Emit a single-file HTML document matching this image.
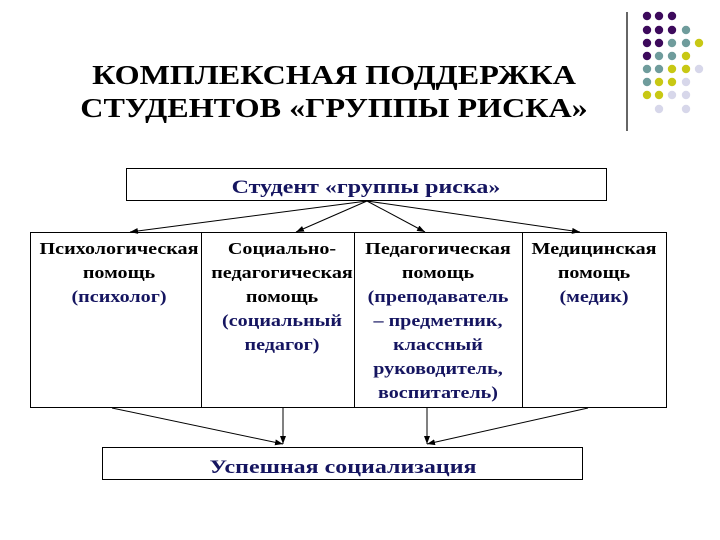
<!DOCTYPE html>
<html><head><meta charset="utf-8"><style>
html,body{margin:0;padding:0;background:#fff}
svg{display:block}
text{font-family:"Liberation Serif",serif;font-weight:bold;text-anchor:middle}
.t{font-size:16.5px}
.k{fill:#000}.n{fill:#151560}
</style></head><body>
<svg width="720" height="540" viewBox="0 0 720 540" xmlns="http://www.w3.org/2000/svg">
<defs><marker id="a" markerWidth="8" markerHeight="6" refX="8" refY="3" orient="auto" markerUnits="userSpaceOnUse"><path d="M0,0L8,3L0,6z" fill="#000"/></marker></defs>
<g transform="translate(334,0) scale(1.19,1)">
<text x="0" y="84" font-size="27" fill="#000">КОМПЛЕКСНАЯ ПОДДЕРЖКА</text>
<text x="0" y="117" font-size="27" fill="#000">СТУДЕНТОВ «ГРУППЫ РИСКА»</text>
</g>
<line x1="627" y1="12" x2="627" y2="131" stroke="#000" stroke-width="1.2"/>
<g>
<circle cx="647" cy="16" r="4.2" fill="#3d0a5c"/><circle cx="659" cy="16" r="4.2" fill="#3d0a5c"/><circle cx="672" cy="16" r="4.2" fill="#3d0a5c"/>
<circle cx="647" cy="30" r="4.2" fill="#3d0a5c"/><circle cx="659" cy="30" r="4.2" fill="#3d0a5c"/><circle cx="672" cy="30" r="4.2" fill="#3d0a5c"/><circle cx="686" cy="30" r="4.2" fill="#6f9c9c"/>
<circle cx="647" cy="43" r="4.2" fill="#3d0a5c"/><circle cx="659" cy="43" r="4.2" fill="#3d0a5c"/><circle cx="672" cy="43" r="4.2" fill="#6f9c9c"/><circle cx="686" cy="43" r="4.2" fill="#6f9c9c"/><circle cx="699" cy="43" r="4.2" fill="#c8c814"/>
<circle cx="647" cy="56" r="4.2" fill="#3d0a5c"/><circle cx="659" cy="56" r="4.2" fill="#6f9c9c"/><circle cx="672" cy="56" r="4.2" fill="#6f9c9c"/><circle cx="686" cy="56" r="4.2" fill="#c8c814"/>
<circle cx="647" cy="69" r="4.2" fill="#6f9c9c"/><circle cx="659" cy="69" r="4.2" fill="#6f9c9c"/><circle cx="672" cy="69" r="4.2" fill="#c8c814"/><circle cx="686" cy="69" r="4.2" fill="#c8c814"/><circle cx="699" cy="69" r="4.2" fill="#d7d7ea"/>
<circle cx="647" cy="82" r="4.2" fill="#6f9c9c"/><circle cx="659" cy="82" r="4.2" fill="#c8c814"/><circle cx="672" cy="82" r="4.2" fill="#c8c814"/><circle cx="686" cy="82" r="4.2" fill="#d7d7ea"/>
<circle cx="647" cy="95" r="4.2" fill="#c8c814"/><circle cx="659" cy="95" r="4.2" fill="#c8c814"/><circle cx="672" cy="95" r="4.2" fill="#d7d7ea"/><circle cx="686" cy="95" r="4.2" fill="#d7d7ea"/>
<circle cx="659" cy="109" r="4.2" fill="#d7d7ea"/><circle cx="686" cy="109" r="4.2" fill="#d7d7ea"/>
</g>
<rect x="126.5" y="168.5" width="480" height="32" fill="none" stroke="#000"/>
<g transform="translate(366,0) scale(1.23,1)"><text x="0" y="193" font-size="19.5" class="n">Студент «группы риска»</text></g>
<g stroke="#000" stroke-width="1" marker-end="url(#a)">
<line x1="367" y1="201" x2="130" y2="232"/>
<line x1="367" y1="201" x2="296" y2="232"/>
<line x1="367" y1="201" x2="425" y2="232"/>
<line x1="367" y1="201" x2="580" y2="232"/>
<line x1="112" y1="408" x2="283" y2="444"/>
<line x1="283" y1="408" x2="283" y2="444"/>
<line x1="427" y1="408" x2="427" y2="444"/>
<line x1="588" y1="408" x2="427" y2="444"/>
</g>
<rect x="30.5" y="232.5" width="636" height="175" fill="none" stroke="#000"/>
<line x1="201.5" y1="232" x2="201.5" y2="408" stroke="#000"/>
<line x1="354.5" y1="232" x2="354.5" y2="408" stroke="#000"/>
<line x1="522.5" y1="232" x2="522.5" y2="408" stroke="#000"/>
<g transform="translate(119,0) scale(1.22,1)">
<text class="t k" x="0" y="254">Психологическая</text>
<text class="t k" x="0" y="278">помощь</text>
<text class="t n" x="0" y="302">(психолог)</text>
</g>
<g transform="translate(282,0) scale(1.22,1)">
<text class="t k" x="0" y="254">Социально-</text>
<text class="t k" x="0" y="278">педагогическая</text>
<text class="t k" x="0" y="302">помощь</text>
<text class="t n" x="0" y="326">(социальный</text>
<text class="t n" x="0" y="350">педагог)</text>
</g>
<g transform="translate(438,0) scale(1.22,1)">
<text class="t k" x="0" y="254">Педагогическая</text>
<text class="t k" x="0" y="278">помощь</text>
<text class="t n" x="0" y="302">(преподаватель</text>
<text class="t n" x="0" y="326">– предметник,</text>
<text class="t n" x="0" y="350">классный</text>
<text class="t n" x="0" y="374">руководитель,</text>
<text class="t n" x="0" y="398">воспитатель)</text>
</g>
<g transform="translate(594,0) scale(1.22,1)">
<text class="t k" x="0" y="254">Медицинская</text>
<text class="t k" x="0" y="278">помощь</text>
<text class="t n" x="0" y="302">(медик)</text>
</g>
<rect x="102.5" y="447.5" width="480" height="32" fill="none" stroke="#000"/>
<g transform="translate(343,0) scale(1.23,1)"><text x="0" y="473" font-size="19.5" class="n">Успешная социализация</text></g>
</svg>
</body></html>
